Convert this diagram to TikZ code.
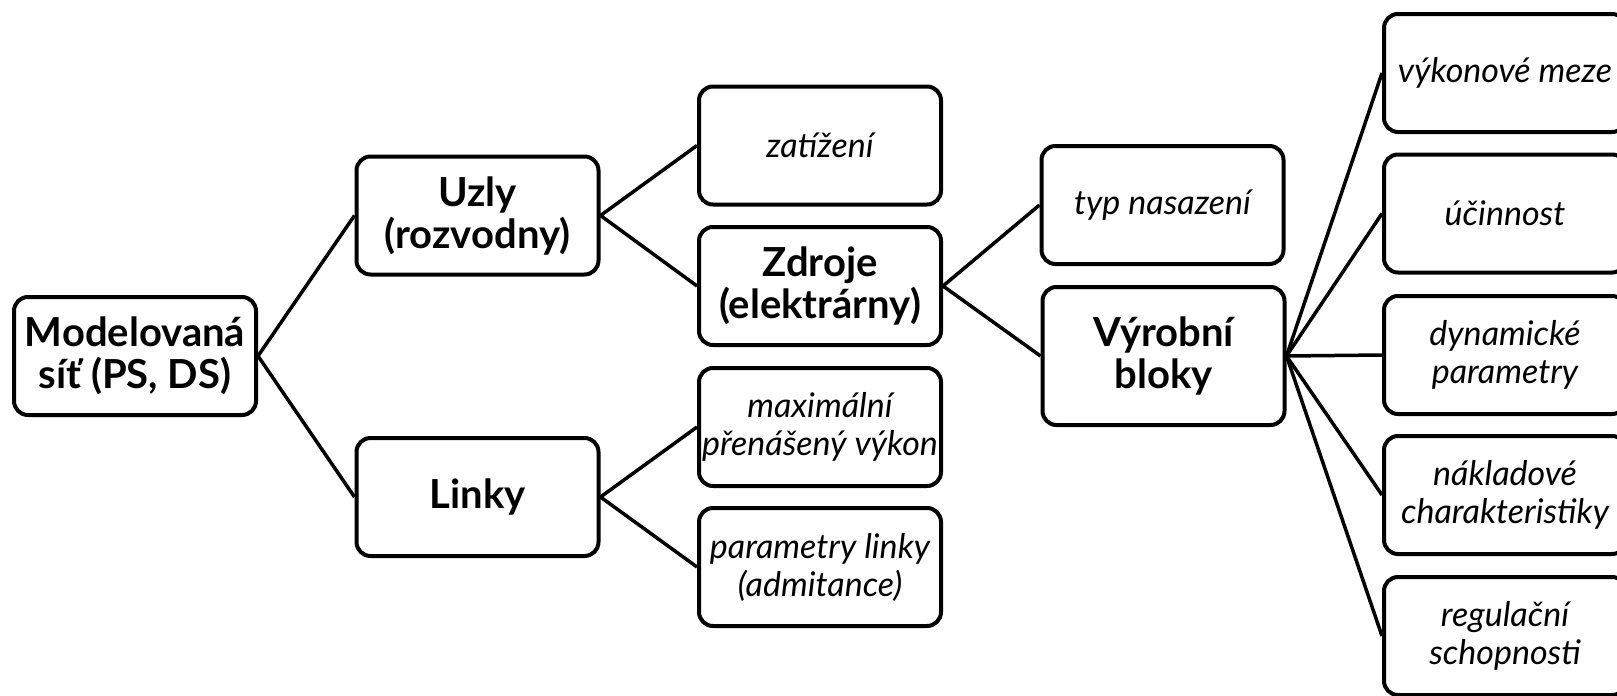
\documentclass[tikz,border=0pt]{standalone}
\usepackage{fontspec}
\setmainfont{Lato}

\begin{document}
\begin{tikzpicture}[x=1pt,y=-1pt,
	box/.style={draw, line width=4pt, rounded corners=14pt, minimum width=242pt,
		minimum height=118pt, align=center, inner xsep=1pt, inner ysep=4pt},
	hlavni/.style={box, font=\fontsize{40}{42}\selectfont\bfseries},
	list/.style={box, font=\fontsize{34}{38}\selectfont\itshape},
	vetev/.style={line width=3.5pt}]
	\useasboundingbox (0,0) rectangle (1617,696);
	\clip (0,0) rectangle (1617,696);
	% root and first level
	\node[hlavni] (sit) at (135,356) {Modelovaná\\síť (PS, DS)};
	\node[hlavni] (uzly) at (477.5,215.5) {Uzly\\(rozvodny)};
	\node[hlavni] (linky) at (477.5,497) {Linky};
	% second level
	\node[list] (zatizeni) at (820,145.5) {zatížení};
	\node[hlavni] (zdroje) at (820,286) {Zdroje\\(elektrárny)};
	\node[list] (maxvykon) at (820,427) {maximální\\přenášený výkon};
	\node[list] (parlinky) at (820,567) {parametry linky\\(admitance)};
	% third level
	\node[list] (nasazeni) at (1162.5,205) {typ nasazení};
	\node[hlavni, minimum height=138pt] (bloky) at (1163.5,356) {Výrobní\\bloky};
	% block properties
	\node[list] (meze) at (1505,73) {výkonové meze};
	\node[list] (ucinnost) at (1505,213.5) {účinnost};
	\node[list] (dynamika) at (1505,355) {dynamické\\parametry};
	\node[list] (naklady) at (1505,495) {nákladové\\charakteristiky};
	\node[list] (regulace) at (1505,636) {regulační\\schopnosti};
	% connectors
	\draw[vetev] (uzly.west) -- (sit.east) -- (linky.west);
	\draw[vetev] (zatizeni.west) -- (uzly.east) -- (zdroje.west);
	\draw[vetev] (maxvykon.west) -- (linky.east) -- (parlinky.west);
	\draw[vetev] (nasazeni.west) -- (zdroje.east) -- (bloky.west);
	\foreach \n in {meze,ucinnost,dynamika,naklady,regulace}
		\draw[vetev] (bloky.east) -- (\n.west);
\end{tikzpicture}
\end{document}
